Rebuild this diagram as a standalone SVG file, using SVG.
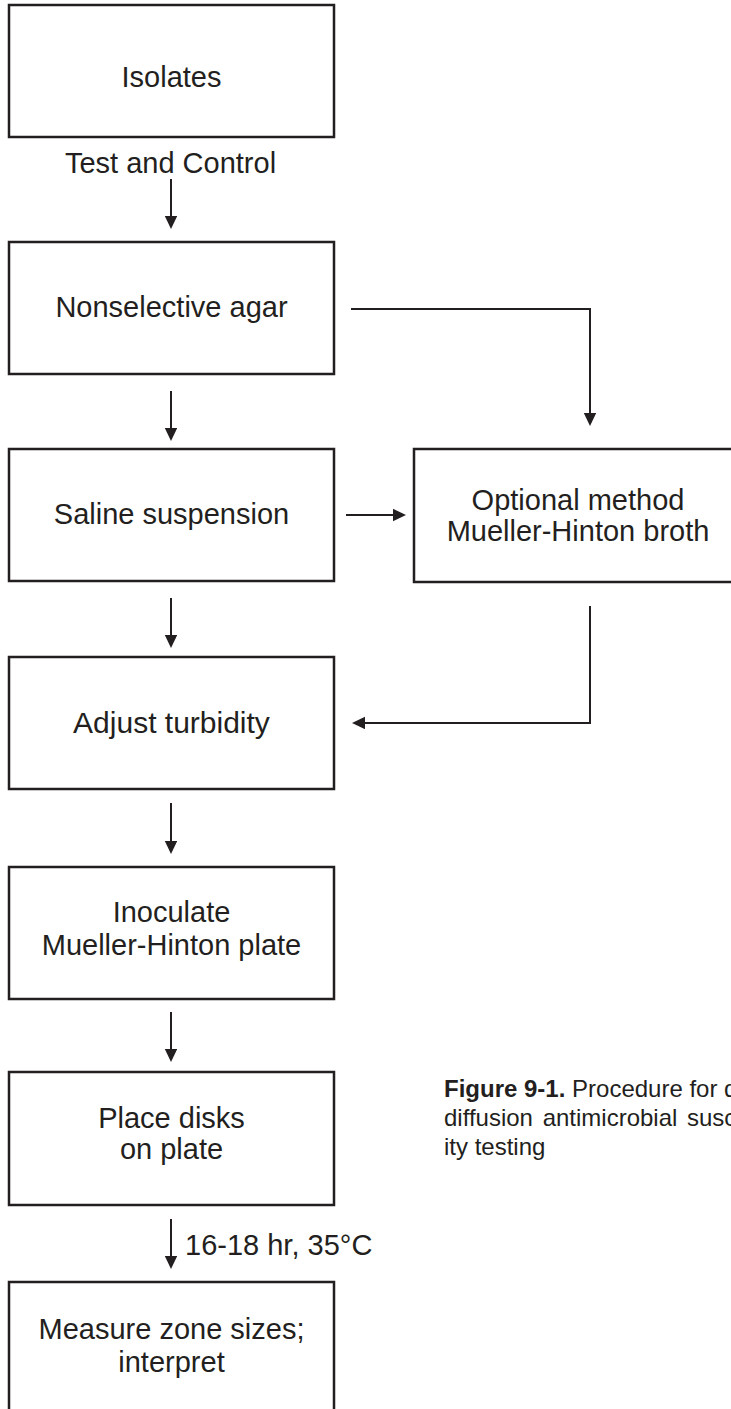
<svg xmlns="http://www.w3.org/2000/svg" width="731" height="1409" viewBox="0 0 731 1409">
<style>
.box{fill:#fff;stroke:#231f20;stroke-width:2.5}
.t{font-family:"Liberation Sans",Arial,sans-serif;font-size:29px;fill:#231f20;text-anchor:middle}
.lbl{font-family:"Liberation Sans",Arial,sans-serif;font-size:29px;fill:#231f20}
.ln{fill:none;stroke:#231f20;stroke-width:2}
.cap{font-family:"Liberation Sans",Arial,sans-serif;font-size:24px;fill:#231f20}
</style>
<defs>
<marker id="ah" markerUnits="userSpaceOnUse" markerWidth="14" markerHeight="14" refX="3" refY="6.2" orient="auto">
<path d="M0,0 L13,6.2 L0,12.4 z" fill="#231f20"/>
</marker>
</defs>
<rect width="731" height="1409" fill="#fff"/>
<g id="connectors">
<path class="ln" d="M171,179 V219" marker-end="url(#ah)"/>
<path class="ln" d="M171,391 V431" marker-end="url(#ah)"/>
<path class="ln" d="M171,598 V638" marker-end="url(#ah)"/>
<path class="ln" d="M171,803 V844" marker-end="url(#ah)"/>
<path class="ln" d="M171,1012 V1052" marker-end="url(#ah)"/>
<path class="ln" d="M171,1219 V1259" marker-end="url(#ah)"/>
<path class="ln" d="M351,309 H590 V416" marker-end="url(#ah)"/>
<path class="ln" d="M346,515 H396" marker-end="url(#ah)"/>
<path class="ln" d="M590,606 V723 H362" marker-end="url(#ah)"/>
<text class="t" x="170.5" y="173">Test and Control</text>
<text class="lbl" x="185" y="1255">16-18 hr, 35°C</text>
</g>
<g id="isolates"><rect class="box" x="9" y="5" width="325" height="132"/><text class="t" x="171.5" y="87">Isolates</text></g>
<g id="nonselective"><rect class="box" x="9" y="242" width="325" height="132"/><text class="t" x="171.5" y="317">Nonselective agar</text></g>
<g id="saline"><rect class="box" x="9" y="449" width="325" height="132"/><text class="t" x="171.5" y="524">Saline suspension</text></g>
<g id="optional"><rect class="box" x="414" y="449" width="328" height="133"/><text class="t" x="578" y="510">Optional method</text><text class="t" x="578" y="541">Mueller-Hinton broth</text></g>
<g id="adjust"><rect class="box" x="9" y="657" width="325" height="132"/><text class="t" x="171.5" y="733" style="font-size:30px">Adjust turbidity</text></g>
<g id="inoculate"><rect class="box" x="9" y="867" width="325" height="132"/><text class="t" x="171.5" y="922">Inoculate</text><text class="t" x="171.5" y="955">Mueller-Hinton plate</text></g>
<g id="disks"><rect class="box" x="9" y="1072" width="325" height="133"/><text class="t" x="171.5" y="1128">Place disks</text><text class="t" x="171.5" y="1159">on plate</text></g>
<g id="measure"><rect class="box" x="9" y="1282" width="325" height="135"/><text class="t" x="171.5" y="1339">Measure zone sizes;</text><text class="t" x="171.5" y="1372">interpret</text></g>
<g id="caption">
<text class="cap" x="444" y="1097"><tspan font-weight="bold">Figure 9-1.</tspan> Procedure for d</text>
<text class="cap" x="444" y="1126" word-spacing="3">diffusion antimicrobial susc</text>
<text class="cap" x="444" y="1155">ity testing</text>
</g>
</svg>
